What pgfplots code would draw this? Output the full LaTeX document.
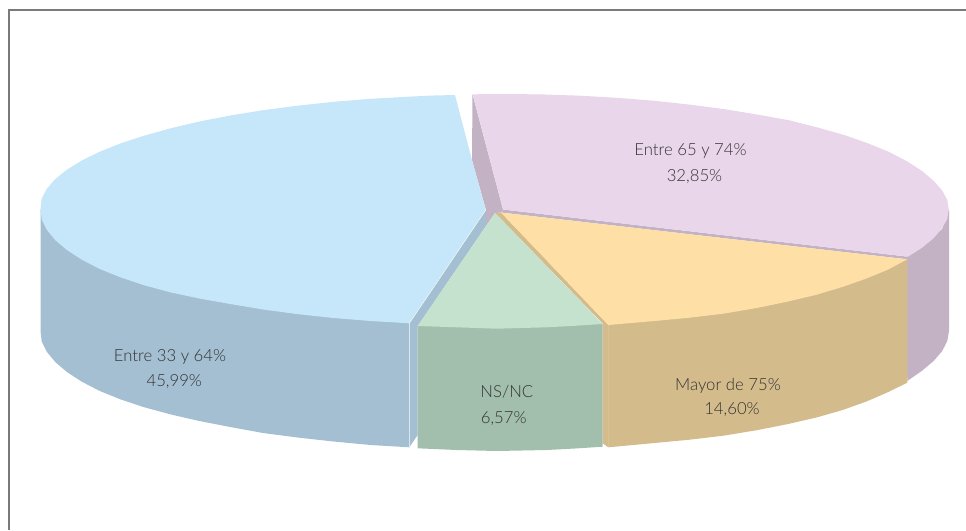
\documentclass[border=0pt]{standalone}
\usepackage{pgfplots}
\pgfplotsset{compat=1.18}
\usepackage{fontspec}
\setmainfont{Lato Light}
\definecolor{btop}{HTML}{C6E6F9}
\definecolor{bwall}{HTML}{A4BFD2}
\definecolor{ptop}{HTML}{E9D6EA}
\definecolor{pwall}{HTML}{C2B2C4}
\definecolor{otop}{HTML}{FEDFA6}
\definecolor{owall}{HTML}{D3BB8B}
\definecolor{gtop}{HTML}{C5E2CE}
\definecolor{gwall}{HTML}{A2BEAC}
\definecolor{txt}{HTML}{333333}
\begin{document}
\begin{tikzpicture}
\useasboundingbox (0,0) rectangle (966pt,530pt);
\begin{axis}[at={(0,0)},anchor=south west,scale only axis,width=966pt,height=530pt,
  xmin=0,xmax=966,ymin=0,ymax=530,y dir=reverse,hide axis,clip=true]
% frame
\addplot[draw=black!52,line width=1.2pt] coordinates {(9,530) (9,10) (966,10)};
% pink inner wall
\addplot[fill=pwall,draw=none] coordinates {(472.5,94.3) (503,209.5) (501,212.5) (495,213) (486,226) (486,210) (472,160)} -- cycle;
% pink outer wall
\addplot[fill=pwall,draw=none] coordinates {(905,258) (942.2,229) (949,209) (949,331) (947.3,341) (942.2,351) (933.8,360.8) (922.1,370.7) (907.3,381)} -- cycle;
% pink strip
\addplot[fill=pwall,draw=none] coordinates {(503,209.5) (908,256.7) (907.3,259.3) (501,212.5)} -- cycle;
% orange wall
\addplot[fill=owall,draw=none] coordinates {(608.3,325) (907.3,259.3) (907.3,382.7) (887.2,392.5) (866.4,401.5) (842.6,410) (816.4,417.5) (787.7,424.1) (756.8,430.2) (724,435.6) (689.5,439.7) (653.5,443.1) (608.3,447.3)} -- cycle;
% orange strip
\addplot[fill=owall,draw=none] coordinates {(495,213) (501,212.5) (608.3,325) (608.3,447.3) (602.7,443.3) (602.7,323.5)} -- cycle;
% orange top
\addplot[fill=otop,draw=none] coordinates {(501,212.5) (907.3,259.3) (887.2,270) (866.4,278.5) (842.6,286.9) (816.4,294.8) (787.7,301.6) (756.8,308) (724,313.6) (689.5,317.7) (653.5,321.1) (608.3,325)} -- cycle;
\addplot[draw=owall!88!white,line width=0.6pt] coordinates {(608.3,325) (608.3,447)};
% pink top
\addplot[fill=ptop,draw=none] coordinates {(472.7,94.3) (503,94) (541.9,94.4) (580.4,95.7) (618.4,97.9) (655.5,100.9) (691.5,104.8) (726,109.4) (758.8,114.8) (789.7,120.4) (818.4,127.7) (844.6,135.1) (868.4,143.5) (889.2,152) (907.2,161.4) (922.1,171) (933.8,181) (942.2,190.5) (947.3,200) (948.6,209) (947.3,219) (942.2,228) (933.8,238) (922.1,247.7) (908,256.7) (503,209.5)} -- cycle;
% blue strip
\addplot[fill=bwall,draw=none] coordinates {(486,210) (409.3,323.3) (409.3,447.3) (417.7,435) (417.7,326) (486,226)} -- cycle;
% blue wall
\addplot[fill=bwall,draw=none] coordinates {(40.5,209) (409.3,323.3) (409.3,447.3) (370.6,445) (333.5,441.5) (297.5,437.5) (263,433) (230.2,427) (199.3,421) (170.6,414.4) (144.4,407.3) (120.6,399.4) (99.8,391) (81.8,381.7) (66.9,372) (55.2,362) (46.8,351.8) (41.7,341.5) (40.5,331)} -- cycle;
% blue top
\addplot[fill=btop,draw=none] coordinates {(455,95) (430,95.6) (408.6,96.7) (370.6,98.8) (333.5,101.8) (297.5,105.7) (263,110.2) (230.2,115.5) (199.3,121.5) (170.6,128.3) (144.4,135.6) (120.6,143.4) (99.8,151.7) (81.8,160.5) (66.9,169.7) (55.2,179.1) (46.8,188.8) (41.7,198.6) (40.5,208.8) (41.7,219.5) (46.8,229.8) (55.2,240.1) (66.9,250) (81.8,259.7) (99.8,269) (120.6,277.4) (144.4,285.3) (170.6,292.4) (199.3,298.5) (230.2,304) (263,309.5) (297.5,314.1) (333.5,318) (370.6,321) (409.3,323.3) (485.7,210) (471.7,159)} -- cycle;
\addplot[draw=white!80!bwall,line width=0.6pt] coordinates {(485.7,210) (409.3,323.3) (409.3,447)};
% green wall
\addplot[fill=gwall,draw=none] coordinates {(417.7,326) (602.7,324) (602.7,446.7) (575,448.5) (546.7,450) (496.7,451) (456.7,450) (417.7,448.3)} -- cycle;
% green top
\addplot[fill=gtop,draw=none] coordinates {(495,213) (417.7,326) (456.7,327.3) (496.7,328.7) (546.7,327.3) (575,325.8) (602.7,324)} -- cycle;
% labels
\begin{scope}[every node/.style={anchor=base,text=txt,inner sep=0pt,font=\fontsize{16.7}{18}\selectfont}]
\node at (axis cs:690.5,155.7) {Entre 65 y 74\%};
\node at (axis cs:694.5,181) {32,85\%};
\node at (axis cs:728,390) {Mayor de 75\%};
\node at (axis cs:732,414.3) {14,60\%};
\node at (axis cs:170,361) {Entre 33 y 64\%};
\node at (axis cs:174.3,386) {45,99\%};
\node at (axis cs:506.8,397.3) {NS/NC};
\node at (axis cs:503.7,423.3) {6,57\%};
\end{scope}
\end{axis}
\end{tikzpicture}
\end{document}
